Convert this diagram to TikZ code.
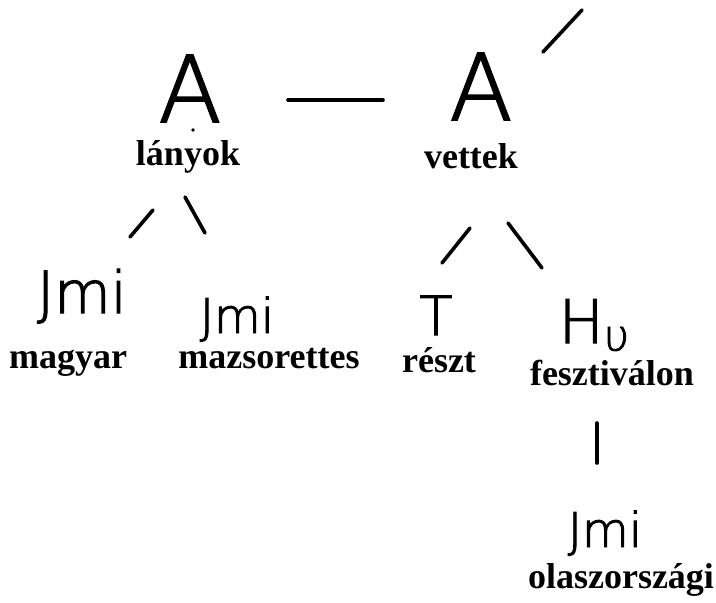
\documentclass[tikz,border=0pt]{standalone}
\usepackage{fontspec}
\setmainfont{Liberation Serif}
\newfontfamily\hw[FakeBold=2]{DejaVu Sans ExtraLight}
\usetikzlibrary{calc}
\tikzset{
  word/.style={font=\fontsize{36}{40}\selectfont\bfseries, anchor=base, inner sep=0pt},
  hand/.style={font=\hw, anchor=base, inner sep=0pt},
  stroke/.style={line width=3.6pt, line cap=round}
}
\begin{document}
\begin{tikzpicture}[x=1pt,y=1pt]
\useasboundingbox (0,0) rectangle (716,-603);
% handwritten labels
\node[hand, font=\hw\fontsize{92}{92}\selectfont] (aL) at (190,-122) {A};
\node[hand, font=\hw\fontsize{92}{92}\selectfont] (aR) at (481,-120) {A};
\node[hand, font=\hw\fontsize{58}{58}\selectfont] (jmi1) at (82,-313) {Jmi};
\node[hand, font=\hw\fontsize{48}{48}\selectfont] (jmi2) at (237,-333) {Jmi};
\node[hand, font=\hw\fontsize{54}{54}\selectfont] (tT) at (436,-335) {T};
\node[hand, font=\hw\fontsize{60}{60}\selectfont] (hU) at (594,-343) {H\smash{\raisebox{-8pt}{\fontsize{44}{44}\selectfont υ}}};
\node[hand, font=\hw\fontsize{48}{48}\selectfont] (jmi3) at (605,-547) {Jmi};
% words
\node[word] (lanyok) at (188,-165) {lányok};
\node[word] (vettek) at (471,-168) {vettek};
\node[word] (magyar) at (68,-368) {magyar};
\node[word] (mazs) at (269,-368) {mazsorettes};
\node[word] (reszt) at (439,-372) {részt};
\node[word] (fesz) at (612,-385) {fesztiválon};
\node[word] (olasz) at (621,-588) {olaszországi};
% connectors
\draw[stroke] ($(aL.base)+(98,22)$) -- ($(aR.base)+(-98,20)$);
\draw[stroke] ($(aR.base)+(62,68)$) -- ($(aR.base)+(101,110)$);
\fill ($(aL.base)+(3,-8)$) circle (1.8);
\draw[stroke] ($(lanyok.base)+(-35,-45)$) -- ($(jmi1.base)+(48,76)$);
\draw[stroke] ($(lanyok.base)+(-3,-32)$) -- ($(jmi2.base)+(-32,100)$);
\draw[stroke] ($(vettek.base)+(-1,-60)$) -- ($(tT.base)+(6,72)$);
\draw[stroke] ($(vettek.base)+(37,-55)$) -- ($(hU.base)+(-52,75)$);
\draw[stroke] ($(fesz.base)+(-15,-38)$) -- ($(jmi3.base)+(-8,84)$);
\end{tikzpicture}
\end{document}
